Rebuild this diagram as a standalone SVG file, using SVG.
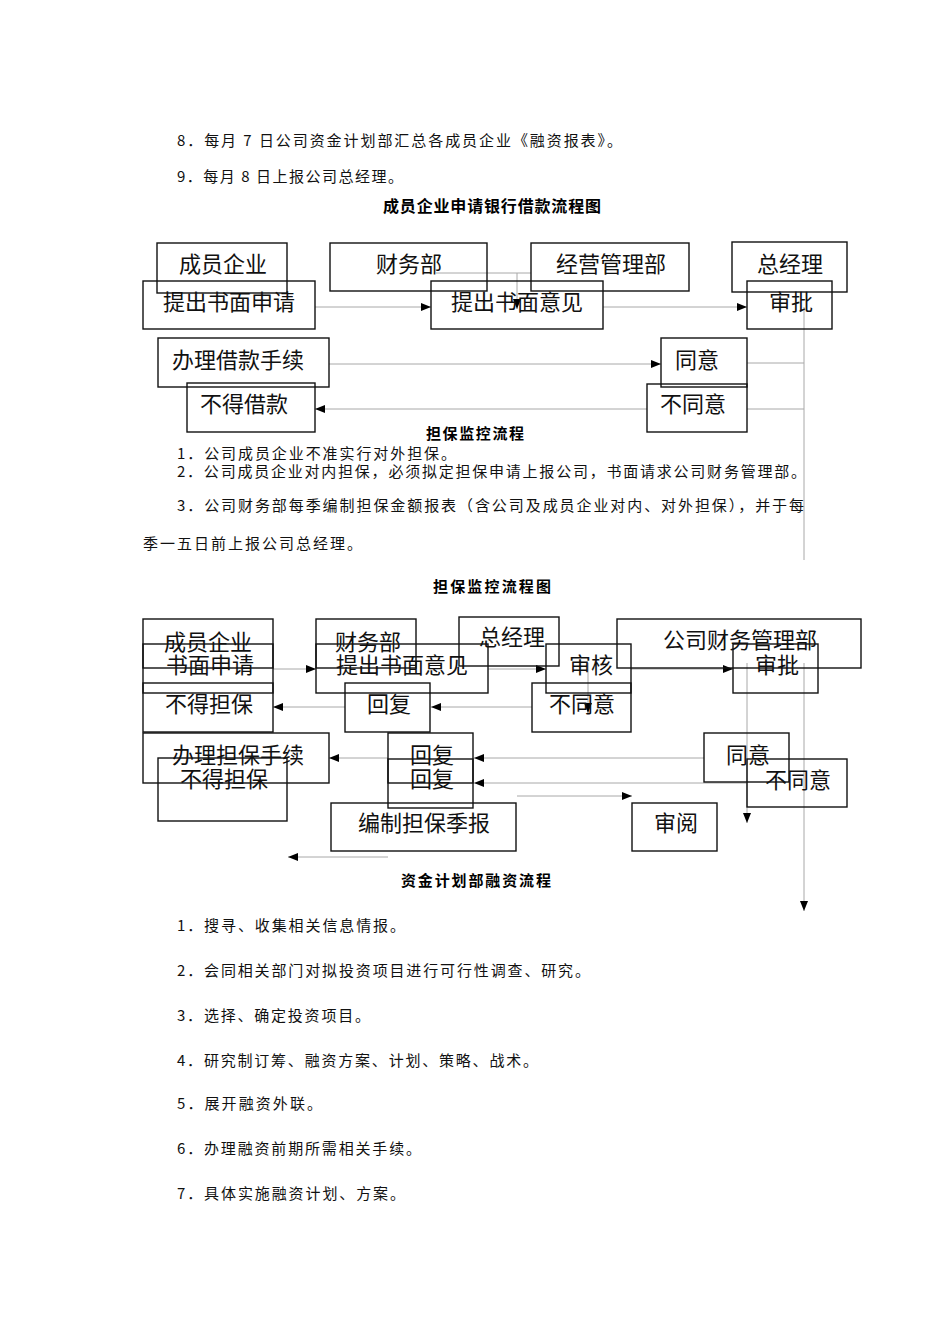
<svg xmlns="http://www.w3.org/2000/svg" width="950" height="1344" viewBox="0 0 950 1344">
<style>
.bg{fill:#fff}
.box{fill:none;stroke:#111;stroke-width:1.4}
.lbl{font-family:"Noto Sans CJK SC","Noto Sans CJK JP",sans-serif;font-size:22px;fill:#111}
.body{font-family:"Noto Sans CJK SC","Noto Sans CJK JP",sans-serif;font-size:15px;fill:#111}
.title{font-family:"Noto Sans CJK SC","Noto Sans CJK JP",sans-serif;font-size:15px;font-weight:bold;fill:#000}
.conn line{stroke:#a8a8a8;stroke-width:1;fill:none}
.conn .arr{marker-end:url(#ah)}
</style>
<defs>
<marker id="ah" viewBox="0 0 10 8" markerWidth="10" markerHeight="8" refX="10" refY="4" orient="auto" markerUnits="userSpaceOnUse">
<path d="M0,0 L10,4 L0,8 z" fill="#000"/>
</marker>
</defs>
<rect class="bg" x="0" y="0" width="950" height="1344"/>

<g id="text-top">
<text class="body" x="177" y="146" textLength="445" lengthAdjust="spacing">8．每月 7 日公司资金计划部汇总各成员企业《融资报表》。</text>
<text class="body" x="177" y="182" textLength="226" lengthAdjust="spacing">9．每月 8 日上报公司总经理。</text>
<text class="title" x="383" y="212" textLength="218" lengthAdjust="spacing" style="font-size:16px">成员企业申请银行借款流程图</text>
</g>

<g class="conn" id="connectors-1">
<line class="arr" x1="315" y1="307" x2="431" y2="307"/>
<line class="arr" x1="603" y1="307" x2="747" y2="307"/>
<line x1="436" y1="273" x2="531" y2="273"/>
<line class="arr" x1="517" y1="273" x2="517" y2="309"/>
<line class="arr" x1="329" y1="364" x2="661" y2="364"/>
<line x1="747" y1="363" x2="804" y2="363"/>
<line x1="747" y1="409" x2="804" y2="409"/>
<line class="arr" x1="647" y1="409" x2="315" y2="409"/>
<line x1="804" y1="307" x2="804" y2="560"/>
</g>

<g id="f1-chengyuan"><rect class="box" x="157" y="243" width="130" height="50"/><text class="lbl" x="179" y="272">成员企业</text></g>
<g id="f1-tichu-shenqing"><rect class="box" x="143" y="281" width="172" height="48"/><text class="lbl" x="163" y="310">提出书面申请</text></g>
<g id="f1-caiwubu"><rect class="box" x="330" y="243" width="157" height="48"/><text class="lbl" x="376" y="272">财务部</text></g>
<g id="f1-tichu-yijian"><rect class="box" x="431" y="281" width="172" height="48"/><text class="lbl" x="451" y="310">提出书面意见</text></g>
<g id="f1-jingying"><rect class="box" x="531" y="243" width="158" height="48"/><text class="lbl" x="556" y="272">经营管理部</text></g>
<g id="f1-zongjingli"><rect class="box" x="732" y="242" width="115" height="50"/><text class="lbl" x="757" y="272">总经理</text></g>
<g id="f1-shenpi"><rect class="box" x="747" y="281" width="85" height="48"/><text class="lbl" x="769" y="310">审批</text></g>
<g id="f1-banli"><rect class="box" x="158" y="338" width="171" height="49"/><text class="lbl" x="172" y="368">办理借款手续</text></g>
<g id="f1-tongyi"><rect class="box" x="661" y="338" width="86" height="49"/><text class="lbl" x="675" y="368">同意</text></g>
<g id="f1-butongyi"><rect class="box" x="647" y="384" width="100" height="48"/><text class="lbl" x="660" y="412">不同意</text></g>
<g id="f1-bude"><rect class="box" x="187" y="383" width="128" height="49"/><text class="lbl" x="200" y="412">不得借款</text></g>

<g id="text-mid">
<text class="title" x="426" y="439" textLength="98" lengthAdjust="spacing">担保监控流程</text>
<text class="body" x="177" y="459" textLength="279" lengthAdjust="spacing">1．公司成员企业不准实行对外担保。</text>
<text class="body" x="177" y="477" textLength="629" lengthAdjust="spacing">2．公司成员企业对内担保，必须拟定担保申请上报公司，书面请求公司财务管理部。</text>
<text class="body" x="177" y="511" textLength="627" lengthAdjust="spacing">3．公司财务部每季编制担保金额报表（含公司及成员企业对内、对外担保），并于每</text>
<text class="body" x="143" y="549" textLength="219" lengthAdjust="spacing">季一五日前上报公司总经理。</text>
<text class="title" x="433" y="592" textLength="118" lengthAdjust="spacing">担保监控流程图</text>
</g>

<g class="conn" id="connectors-2">
<line class="arr" x1="273" y1="669" x2="316" y2="669"/>
<line class="arr" x1="488" y1="669" x2="546" y2="669"/>
<line class="arr" x1="631" y1="669" x2="733" y2="669"/>
<line class="arr" x1="588" y1="663" x2="588" y2="713"/>
<line class="arr" x1="747" y1="663" x2="747" y2="823"/>
<line class="arr" x1="804" y1="663" x2="804" y2="911"/>
<line class="arr" x1="532" y1="707" x2="431" y2="707"/>
<line class="arr" x1="345" y1="707" x2="273" y2="707"/>
<line class="arr" x1="704" y1="758" x2="474" y2="758"/>
<line class="arr" x1="747" y1="783" x2="474" y2="783"/>
<line class="arr" x1="388" y1="758" x2="329" y2="758"/>
<line class="arr" x1="517" y1="796" x2="632" y2="796"/>
<line class="arr" x1="388" y1="857" x2="288" y2="857"/>
</g>

<g id="f2-chengyuan"><rect class="box" x="143" y="619" width="130" height="49"/><text class="lbl" x="164" y="650">成员企业</text></g>
<g id="f2-shenqing"><rect class="box" x="143" y="644" width="130" height="49"/><text class="lbl" x="166" y="673">书面申请</text></g>
<g id="f2-bude1"><rect class="box" x="143" y="683" width="130" height="49"/><text class="lbl" x="165" y="712">不得担保</text></g>
<g id="f2-caiwubu"><rect class="box" x="316" y="619" width="100" height="49"/><text class="lbl" x="335" y="650">财务部</text></g>
<g id="f2-yijian"><rect class="box" x="316" y="644" width="172" height="49"/><text class="lbl" x="336" y="673">提出书面意见</text></g>
<g id="f2-zongjingli"><rect class="box" x="459" y="617" width="100" height="49"/><text class="lbl" x="479" y="645">总经理</text></g>
<g id="f2-shenhe"><rect class="box" x="546" y="644" width="85" height="49"/><text class="lbl" x="569" y="673">审核</text></g>
<g id="f2-butongyi1"><rect class="box" x="532" y="683" width="99" height="49"/><text class="lbl" x="549" y="712">不同意</text></g>
<g id="f2-gongsi"><rect class="box" x="617" y="619" width="244" height="49"/><text class="lbl" x="663" y="648">公司财务管理部</text></g>
<g id="f2-shenpi"><rect class="box" x="733" y="644" width="85" height="49"/><text class="lbl" x="755" y="673">审批</text></g>
<g id="f2-huifu1"><rect class="box" x="345" y="683" width="85" height="49"/><text class="lbl" x="367" y="712">回复</text></g>
<g id="f2-banli"><rect class="box" x="143" y="733" width="186" height="50"/><text class="lbl" x="172" y="763">办理担保手续</text></g>
<g id="f2-bude2"><rect class="box" x="158" y="758" width="129" height="63"/><text class="lbl" x="180" y="787">不得担保</text></g>
<g id="f2-huifu2"><rect class="box" x="388" y="733" width="85" height="50"/><text class="lbl" x="410" y="763">回复</text></g>
<g id="f2-huifu3"><rect class="box" x="388" y="759" width="85" height="49"/><text class="lbl" x="410" y="787">回复</text></g>
<g id="f2-tongyi"><rect class="box" x="704" y="733" width="85" height="49"/><text class="lbl" x="726" y="763">同意</text></g>
<g id="f2-butongyi2"><rect class="box" x="747" y="759" width="100" height="48"/><text class="lbl" x="765" y="788">不同意</text></g>
<g id="f2-bianzhi"><rect class="box" x="331" y="803" width="185" height="48"/><text class="lbl" x="358" y="831">编制担保季报</text></g>
<g id="f2-shenyue"><rect class="box" x="632" y="803" width="85" height="48"/><text class="lbl" x="654" y="831">审阅</text></g>

<g id="text-bottom">
<text class="title" x="401" y="886" textLength="150" lengthAdjust="spacing">资金计划部融资流程</text>
<text class="body" x="177" y="931" textLength="228" lengthAdjust="spacing">1．搜寻、收集相关信息情报。</text>
<text class="body" x="177" y="976" textLength="413" lengthAdjust="spacing">2．会同相关部门对拟投资项目进行可行性调查、研究。</text>
<text class="body" x="177" y="1021" textLength="193" lengthAdjust="spacing">3．选择、确定投资项目。</text>
<text class="body" x="177" y="1066" textLength="361" lengthAdjust="spacing">4．研究制订筹、融资方案、计划、策略、战术。</text>
<text class="body" x="177" y="1109" textLength="145" lengthAdjust="spacing">5．展开融资外联。</text>
<text class="body" x="177" y="1154" textLength="244" lengthAdjust="spacing">6．办理融资前期所需相关手续。</text>
<text class="body" x="177" y="1199" textLength="228" lengthAdjust="spacing">7．具体实施融资计划、方案。</text>
</g>
</svg>
